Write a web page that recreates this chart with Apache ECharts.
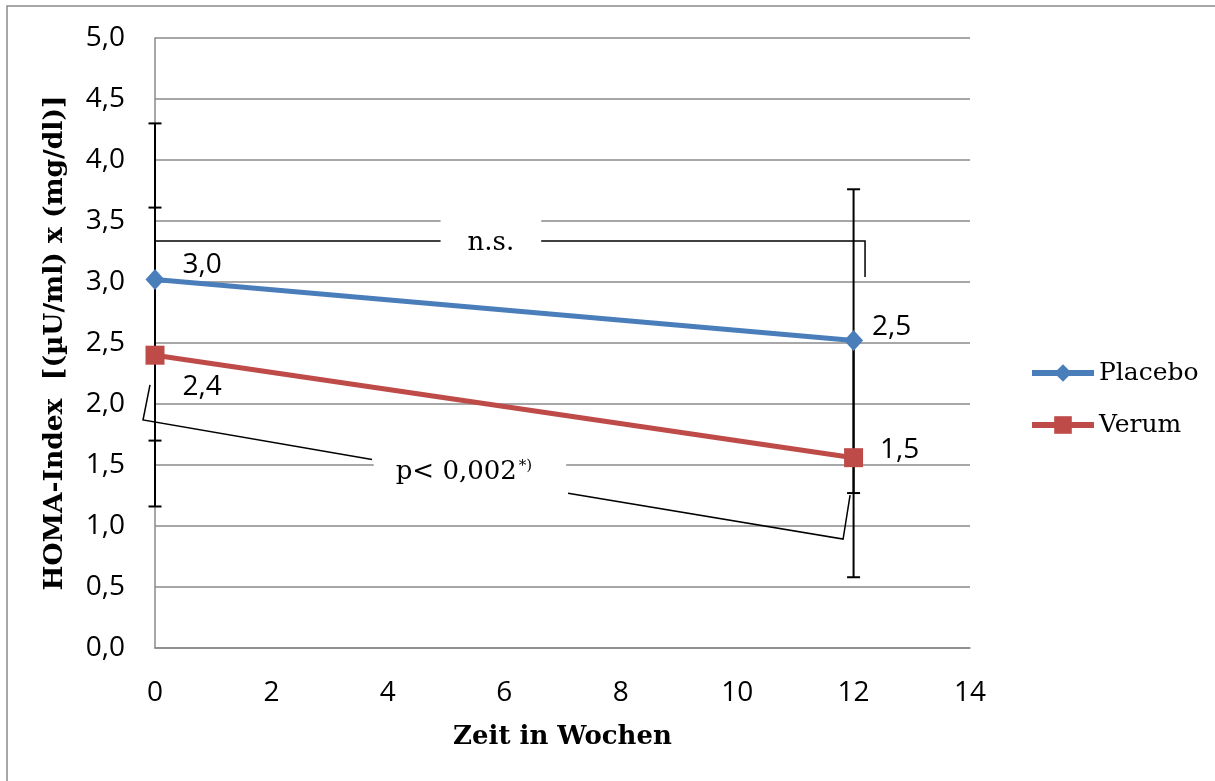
<!DOCTYPE html>
<html>
<head>
<meta charset="utf-8">
<script src="https://cdn.jsdelivr.net/npm/echarts@6/dist/echarts.min.js"></script>
<style>
  html, body { margin: 0; padding: 0; background: #ffffff; }
  #chart { width: 1215px; height: 781px; }
</style>
</head>
<body>
<div id="chart"></div>
<script>
// ---- data ----
const weeks = [0, 12];
const placebo = [3.02, 2.52];
const placeboLow = [1.70, 1.27];
const placeboHigh = [4.30, 3.76];
const verum = [2.40, 1.56];
const verumLow = [1.16, 0.58];
const verumHigh = [3.61, 2.54];
const placeboLabels = ['3,0', '2,5'];
const verumLabels = ['2,4', '1,5'];
const yTicks = [0, 0.5, 1, 1.5, 2, 2.5, 3, 3.5, 4, 4.5, 5];

// significance brackets (data coordinates)
const nsBracketLeft = [[0, 3.10], [0, 3.336], [4.93, 3.336]];
const nsBracketRight = [[6.61, 3.336], [12.197, 3.336], [12.197, 3.04]];
const pBracketLeft = [[-0.086, 2.156], [-0.206, 1.869], [3.728, 1.546]];
const pBracketRight = [[7.095, 1.269], [11.82, 0.893], [11.94, 1.254]];
const annotationText = ['n.s.', 'p< 0,002'];
const annotationPos = [[5.77, 3.32], [5.41, 1.443]];

const BLUE = '#4A7EBB';
const RED = '#BE4B48';
const GRIDC = '#8a8a8a';
const SANS = '"Open Sans", "Liberation Sans", sans-serif';
const SERIF = '"DejaVu Serif", "Liberation Serif", serif';

const chart = echarts.init(document.getElementById('chart'), null, { renderer: 'canvas' });

function errorSeries(name, low, high) {
  return {
    type: 'custom',
    name: name + ' SD',
    clip: false,
    z: 1,
    silent: true,
    data: weeks.map((w, i) => [w, low[i], high[i]]),
    renderItem: function (params, api) {
      const x = api.value(0);
      const pTop = api.coord([x, api.value(2)]);
      const pBot = api.coord([x, api.value(1)]);
      const half = 6.5;
      const st = { stroke: '#000', lineWidth: 2 };
      return {
        type: 'group',
        children: [
          { type: 'line', shape: { x1: pTop[0], y1: pTop[1], x2: pBot[0], y2: pBot[1] }, style: st },
          { type: 'line', shape: { x1: pTop[0] - half, y1: pTop[1], x2: pTop[0] + half, y2: pTop[1] }, style: st },
          { type: 'line', shape: { x1: pBot[0] - half, y1: pBot[1], x2: pBot[0] + half, y2: pBot[1] }, style: st }
        ]
      };
    }
  };
}

const brackets = [nsBracketLeft, nsBracketRight, pBracketLeft, pBracketRight];
function bracketSeries() {
  return {
    type: 'custom',
    clip: false,
    silent: true,
    z: 2,
    data: brackets.map((b, i) => [i]),
    renderItem: function (params, api) {
      const pts = brackets[params.dataIndex].map(p => api.coord(p));
      return {
        type: 'polyline',
        shape: { points: pts },
        style: { stroke: '#000', lineWidth: 1.5, fill: null }
      };
    }
  };
}

const placeboOffsets = [[13, -15], [4, -14]];
const verumOffsets = [[13, 32], [12, -8]];

const option = {
  animation: false,
  backgroundColor: '#ffffff',
  graphic: [{
    type: 'rect',
    shape: { x: 7, y: 6, width: 1230, height: 800 },
    style: { fill: 'none', stroke: GRIDC, lineWidth: 1.5 },
    silent: true
  }],
  grid: { left: 155, right: 245, top: 38, bottom: 133, containLabel: false },
  legend: {
    data: ['Placebo', 'Verum'],
    orient: 'vertical',
    left: 1024,
    top: 351,
    itemWidth: 62,
    itemHeight: 22,
    itemGap: 18,
    lineStyle: { width: 6 },
    textStyle: { fontFamily: SERIF, fontSize: 25, color: '#000', lineHeight: 34 }
  },
  xAxis: {
    type: 'value',
    min: 0, max: 14, interval: 2,
    name: 'Zeit in Wochen',
    nameLocation: 'middle',
    nameGap: 76,
    nameTextStyle: { fontFamily: SERIF, fontWeight: 'bold', fontSize: 26, color: '#000' },
    axisLine: { show: true, lineStyle: { color: GRIDC, width: 1.5 } },
    axisTick: { show: false },
    splitLine: { show: false },
    axisLabel: { fontFamily: SANS, fontSize: 28, color: '#000', margin: 31 }
  },
  yAxis: {
    type: 'value',
    min: 0, max: 5, interval: 0.5,
    name: 'HOMA-Index  [(µU/ml) x (mg/dl)]',
    nameLocation: 'middle',
    nameGap: 86,
    nameTextStyle: { fontFamily: SERIF, fontWeight: 'bold', fontSize: 26.5, color: '#000' },
    axisLine: { show: true, lineStyle: { color: GRIDC, width: 1.5 } },
    axisTick: { show: false },
    splitLine: { show: true, lineStyle: { color: GRIDC, width: 1.5 } },
    axisLabel: {
      fontFamily: SANS, fontSize: 28, color: '#000', margin: 30,
      formatter: function (v) {
        const t = yTicks.find(k => Math.abs(k - v) < 1e-9);
        return (t !== undefined ? t : v).toFixed(1).replace('.', ',');
      }
    }
  },
  series: [
    errorSeries('Placebo', placeboLow, placeboHigh),
    errorSeries('Verum', verumLow, verumHigh),
    bracketSeries(),
    {
      type: 'scatter',
      silent: true,
      z: 3,
      symbolSize: 0,
      clip: false,
      itemStyle: { color: '#ffffff', opacity: 1 },
      data: annotationPos.map((p, i) => ({
        value: p,
        label: {
          show: true,
          position: 'inside',
          color: '#000',
          opacity: 1,
          textBorderWidth: 0,
          formatter: i === 1 ? '{t|' + annotationText[i] + '}{s|*)}' : '{t|' + annotationText[i] + '}',
          backgroundColor: '#ffffff',
          padding: i === 1 ? [14, 34, 14, 22] : [14, 27, 14, 27],
          rich: {
            t: { fontFamily: SERIF, fontSize: 26, color: '#000', textBorderWidth: 0 },
            s: { fontFamily: SERIF, fontSize: 15, color: '#000', textBorderWidth: 0, verticalAlign: 'top', padding: [0, 0, 12, 2] }
          }
        }
      }))
    },
    {
      type: 'line',
      name: 'Placebo',
      z: 5,
      data: weeks.map((w, i) => ({
        value: [w, placebo[i]],
        label: {
          show: true, position: 'right', distance: 5, offset: placeboOffsets[i],
          formatter: placeboLabels[i],
          fontFamily: SANS, fontSize: 28, color: '#000'
        }
      })),
      symbol: 'diamond',
      symbolSize: [19, 21],
      clip: false,
      itemStyle: { color: BLUE },
      lineStyle: { color: BLUE, width: 5 }
    },
    {
      type: 'line',
      name: 'Verum',
      z: 5,
      data: weeks.map((w, i) => ({
        value: [w, verum[i]],
        label: {
          show: true, position: 'right', distance: 5, offset: verumOffsets[i],
          formatter: verumLabels[i],
          fontFamily: SANS, fontSize: 28, color: '#000'
        }
      })),
      symbol: 'rect',
      symbolSize: 19,
      clip: false,
      itemStyle: { color: RED },
      lineStyle: { color: RED, width: 5 }
    }
  ]
};
chart.setOption(option);
</script>
</body>
</html>
